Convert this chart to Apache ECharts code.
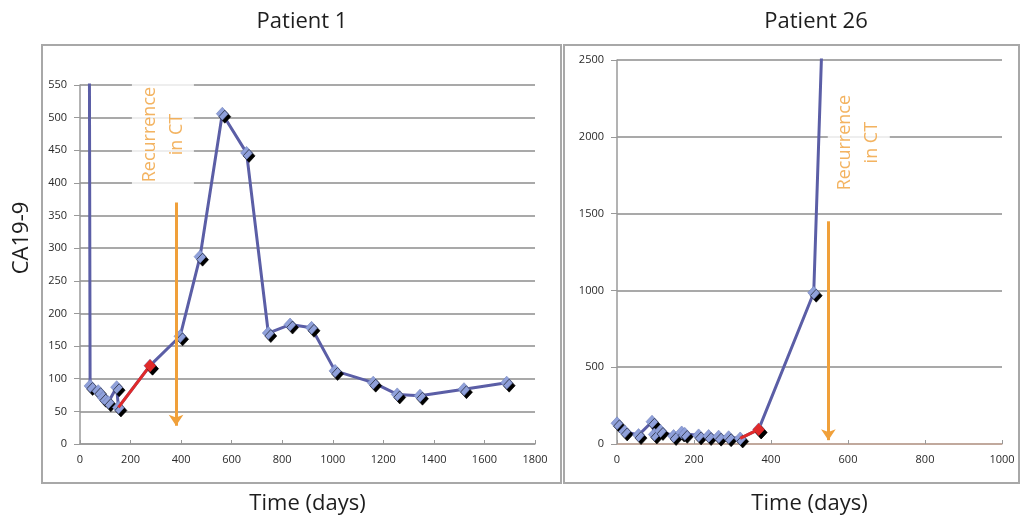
<!DOCTYPE html>
<html>
<head>
<meta charset="utf-8">
<script src="https://cdn.jsdelivr.net/npm/echarts@6/dist/echarts.min.js"></script>
<style>html,body{margin:0;padding:0;background:#fff}#c{width:1021px;height:520px}</style>
</head>
<body>
<div id="c"></div>
<script>
// Patient 1
const p1Days = [32, 40, 72, 92, 112, 145, 152, 277, 396, 475, 563, 659, 745, 831, 916, 1009, 1160, 1255, 1345, 1519, 1688];
const p1Vals = [1500, 89, 81, 71, 64, 87, 56, 120, 165, 287, 506, 446, 170, 183, 178, 112, 94, 76, 74, 84, 94];
const p1RedDays = [152, 277];
const p1RedVals = [56, 120];
// Patient 26
const p2Days = [0, 20, 56, 91, 97, 113, 147, 168, 176, 212, 238, 264, 290, 320, 368, 511, 540];
const p2Vals = [135, 82, 58, 145, 62, 85, 52, 75, 66, 56, 52, 48, 44, 36, 95, 985, 3200];
const p2RedDays = [320, 368];
const p2RedVals = [36, 95];
// Annotations: label anchor [day, value], arrow [day, fromValue, toValue]
const p1Label = [328, 474];
const p1Arrow = [380, 370, 28];
const p2Label = [628, 1962];
const p2Arrow = [549, 1450, 25];
// Axes
const p1XMax = 1800, p1XStep = 200, p1YMax = 550, p1YStep = 50;
const p2XMax = 1000, p2XStep = 200, p2YMax = 2500, p2YStep = 500;
const titles = ['Patient 1', 'Patient 26'];
const xName = 'Time (days)';
const yName = 'CA19-9';
const annText = 'Recurrence\nin CT';

const FONT = 'Open Sans';
const BLUE = '#5b5ea6', RED = '#e02a2a', ORANGE = '#f0a03a', MARK = '#8fa0da';

function zip(a, b) { return a.map((v, i) => [v, b[i]]); }
const plain = v => String(v);

function xAxis(idx, max, step, axisColor) {
  return {
    gridIndex: idx, type: 'value', min: 0, max: max, interval: step,
    name: xName, nameLocation: 'middle', nameGap: 49,
    nameTextStyle: { fontFamily: FONT, fontSize: 22, color: '#1e1e1e' },
    axisLine: { show: true, lineStyle: { color: axisColor, width: 1.5 } },
    axisTick: { show: true, inside: true, length: 4, lineStyle: { color: '#999' } },
    axisLabel: { fontFamily: FONT, fontSize: 11, color: '#2a2a2a', margin: 10, formatter: plain },
    splitLine: { show: false }
  };
}
function yAxis(idx, max, step) {
  return {
    gridIndex: idx, type: 'value', min: 0, max: max, interval: step,
    axisLine: { show: true, lineStyle: { color: '#9a9a9a', width: 1.5 } },
    axisTick: { show: true, length: 6, lineStyle: { color: '#999' } },
    axisLabel: { fontFamily: FONT, fontSize: 11, color: '#2a2a2a', margin: 13, formatter: plain },
    splitLine: { show: true, lineStyle: { color: '#8c8c8c', width: 1.5 } }
  };
}
function mainSeries(idx, days, vals) {
  return {
    type: 'line', xAxisIndex: idx, yAxisIndex: idx, data: zip(days, vals),
    symbol: 'diamond', symbolSize: [12, 13], clip: true, z: 3,
    lineStyle: { color: BLUE, width: 3 },
    itemStyle: { color: MARK, borderColor: '#6f80bb', borderWidth: 0.6,
      shadowColor: '#000', shadowOffsetX: 2.5, shadowOffsetY: 3, shadowBlur: 0 }
  };
}
function redSeries(idx, days, vals) {
  const d = zip(days, vals).map((p, i) => i === 0 ? { value: p, symbol: 'none' } : { value: p });
  return {
    type: 'line', xAxisIndex: idx, yAxisIndex: idx, data: d,
    symbol: 'diamond', symbolSize: [12, 13], z: 4,
    lineStyle: { color: RED, width: 3 },
    itemStyle: { color: RED, shadowColor: '#000', shadowOffsetX: 2.5, shadowOffsetY: 3, shadowBlur: 0 }
  };
}
function annSeries(idx, lab, arr) {
  return {
    type: 'scatter', xAxisIndex: idx, yAxisIndex: idx, data: [lab],
    symbolSize: 1, itemStyle: { color: 'rgba(0,0,0,0)' }, z: 5, silent: true,
    label: {
      show: true, position: 'inside', formatter: annText, rotate: 90,
      fontFamily: FONT, fontSize: 18, lineHeight: 27, color: ORANGE,
      align: 'center', verticalAlign: 'middle',
      backgroundColor: '#ffffff', padding: [4, 8]
    },
    markLine: {
      silent: true, animation: false,
      symbol: ['none', 'arrow'], symbolSize: 11,
      label: { show: false },
      emphasis: { disabled: true },
      lineStyle: { color: ORANGE, width: 3, type: 'solid', opacity: 1 },
      data: [[{ coord: [arr[0], arr[1]] }, { coord: [arr[0], arr[2]] }]]
    }
  };
}

const chart = echarts.init(document.getElementById('c'), null, { renderer: 'canvas' });
chart.setOption({
  backgroundColor: '#fff',
  animation: false,
  title: [
    { text: titles[0], left: 297, top: 6, textAlign: 'center',
      textStyle: { fontFamily: FONT, fontSize: 22, fontWeight: 'normal', color: '#1e1e1e' } },
    { text: titles[1], left: 811, top: 6, textAlign: 'center',
      textStyle: { fontFamily: FONT, fontSize: 22, fontWeight: 'normal', color: '#1e1e1e' } }
  ],
  grid: [
    { left: 80, width: 455, top: 85, height: 362 },
    { left: 617, width: 385, top: 60, height: 387 }
  ],
  xAxis: [xAxis(0, p1XMax, p1XStep, '#9a9a9a'), xAxis(1, p2XMax, p2XStep, '#c9a999')],
  yAxis: [yAxis(0, p1YMax, p1YStep), yAxis(1, p2YMax, p2YStep)],
  series: [
    mainSeries(0, p1Days, p1Vals), redSeries(0, p1RedDays, p1RedVals), annSeries(0, p1Label, p1Arrow),
    mainSeries(1, p2Days, p2Vals), redSeries(1, p2RedDays, p2RedVals), annSeries(1, p2Label, p2Arrow)
  ],
  graphic: [
    { type: 'rect', shape: { x: 42, y: 45, width: 519, height: 438 },
      style: { fill: 'none', stroke: '#a8a8a8', lineWidth: 2 }, silent: true, z: -1 },
    { type: 'rect', shape: { x: 564, y: 45, width: 455, height: 438 },
      style: { fill: 'none', stroke: '#a8a8a8', lineWidth: 2 }, silent: true, z: -1 },
    { type: 'text', x: 22, y: 238, rotation: Math.PI / 2,
      style: { text: yName, font: '22px "Open Sans"', fill: '#1e1e1e', textAlign: 'center', textVerticalAlign: 'middle' } }
  ]
});
</script>
</body>
</html>
